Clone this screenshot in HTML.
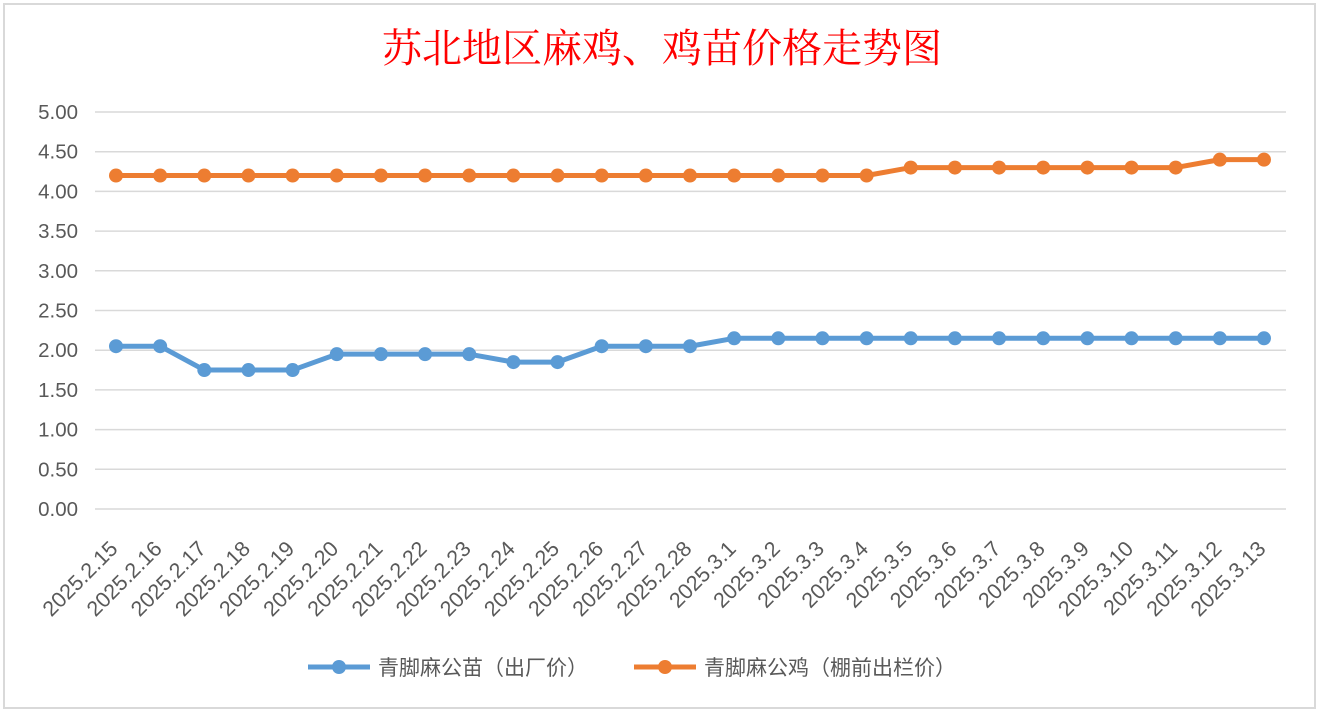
<!DOCTYPE html>
<html><head><meta charset="utf-8"><style>
html,body{margin:0;padding:0;background:#fff;}
svg{display:block;font-family:"Liberation Sans","Noto Sans CJK SC",sans-serif;}
</style></head><body>
<svg width="1325" height="713">
<rect x="4" y="4" width="1311" height="704" fill="#fff" stroke="#d9d9d9" stroke-width="2"/>
<text x="662" y="62" text-anchor="middle" fill="#ff0000" font-size="40" font-family="'Liberation Serif','Noto Serif CJK SC',serif">苏北地区麻鸡、鸡苗价格走势图</text>
<g id="grid"></g><g id="ylab"></g><g id="xlab"></g><g id="series"></g>
<g>
<g>
<line x1="308" y1="667" x2="370" y2="667" stroke="#5b9bd5" stroke-width="5"/><circle cx="339" cy="667" r="7" fill="#5b9bd5"/>
<text x="378" y="675" font-size="21" fill="#595959">青脚麻公苗（出厂价）</text></g>
<g>
<line x1="634" y1="667" x2="696" y2="667" stroke="#ed7d31" stroke-width="5"/><circle cx="665" cy="667" r="7" fill="#ed7d31"/>
<text x="704" y="675" font-size="21" fill="#595959">青脚麻公鸡（棚前出栏价）</text></g>
</g>
</svg>
<script>
const categories=["2025.2.15","2025.2.16","2025.2.17","2025.2.18","2025.2.19","2025.2.20","2025.2.21","2025.2.22","2025.2.23","2025.2.24","2025.2.25","2025.2.26","2025.2.27","2025.2.28","2025.3.1","2025.3.2","2025.3.3","2025.3.4","2025.3.5","2025.3.6","2025.3.7","2025.3.8","2025.3.9","2025.3.10","2025.3.11","2025.3.12","2025.3.13"];
const chickPrice=[2.05,2.05,1.75,1.75,1.75,1.95,1.95,1.95,1.95,1.85,1.85,2.05,2.05,2.05,2.15,2.15,2.15,2.15,2.15,2.15,2.15,2.15,2.15,2.15,2.15,2.15,2.15];
const roosterPrice=[4.2,4.2,4.2,4.2,4.2,4.2,4.2,4.2,4.2,4.2,4.2,4.2,4.2,4.2,4.2,4.2,4.2,4.2,4.3,4.3,4.3,4.3,4.3,4.3,4.3,4.4,4.4];
const yTicks=[0,0.5,1,1.5,2,2.5,3,3.5,4,4.5,5];
const NS="http://www.w3.org/2000/svg";
const x0=116,x1=1264,yb=509,yt=112;
function xs(i){return x0+(x1-x0)*i/(categories.length-1);}
function ys(v){return yb-(yb-yt)*v/5;}
function mk(t,a,p){const e=document.createElementNS(NS,t);for(const k in a)e.setAttribute(k,a[k]);p.appendChild(e);return e;}
const grid=document.getElementById('grid'),ylab=document.getElementById('ylab'),xlab=document.getElementById('xlab'),ser=document.getElementById('series');
yTicks.forEach(v=>{
const l=mk('line',{x1:95,x2:1286,y1:ys(v),y2:ys(v),stroke:'#d9d9d9','stroke-width':1.5},grid);


const t=mk('text',{x:78,y:ys(v)+7,'text-anchor':'end','font-size':20.5,fill:'#595959'},ylab);
t.textContent=v.toFixed(2);


});
categories.forEach((c,i)=>{
const t=mk('text',{transform:`translate(${xs(i)+3},550) rotate(-45)`,'text-anchor':'end','font-size':21.5,fill:'#595959'},xlab);
t.textContent=c;


});
function draw(vals,col,name){
const g=mk('g',{},ser);


const p=mk('polyline',{points:vals.map((v,i)=>xs(i)+','+ys(v)).join(' '),fill:'none',stroke:col,'stroke-width':5,'stroke-linejoin':'round'},g);


vals.forEach((v,i)=>{
const c=mk('circle',{cx:xs(i),cy:ys(v),r:7,fill:col},g);


});
}
draw(chickPrice,'#5b9bd5','chick-series');
draw(roosterPrice,'#ed7d31','rooster-series');
</script>
</body></html>
